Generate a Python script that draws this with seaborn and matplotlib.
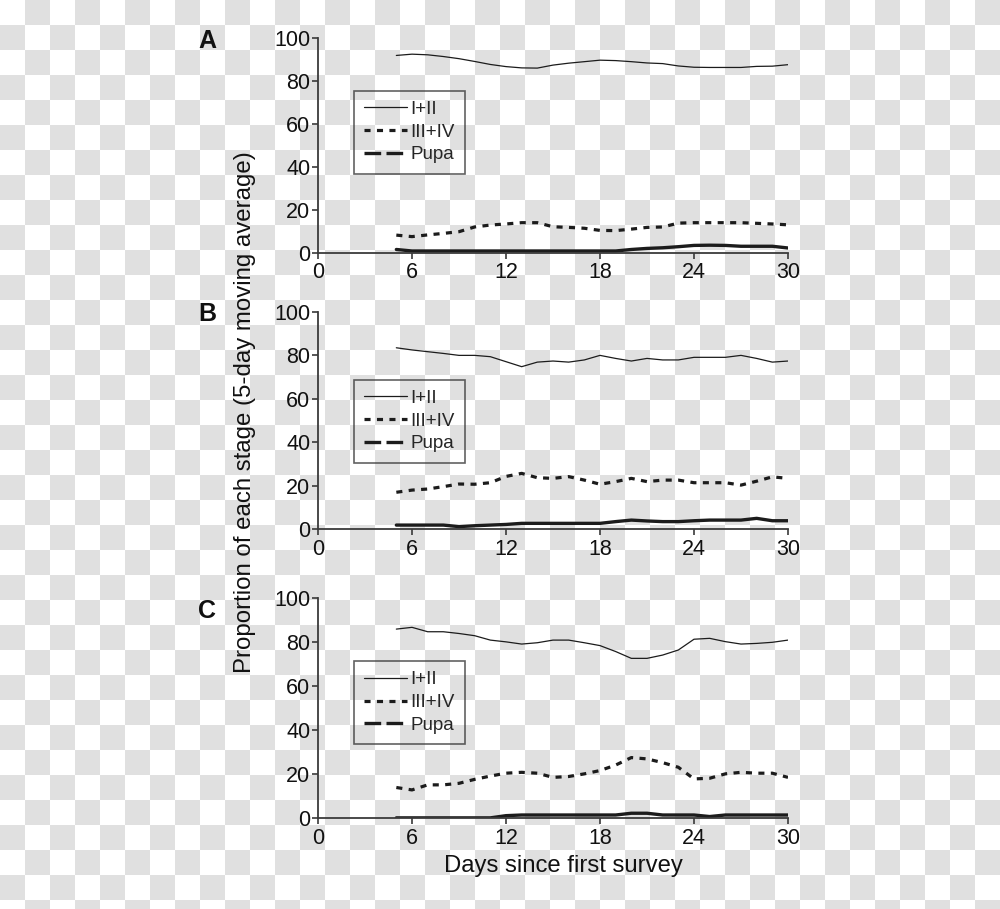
import numpy as np
import pandas as pd
import matplotlib
matplotlib.use("Agg")
import matplotlib.pyplot as plt
from matplotlib.lines import Line2D
import seaborn as sns

# days of the 5-day moving average (first value on day 5)
days = list(range(5, 31))

a_early = [92, 92.6, 92.3, 91.5, 90.5, 89.2, 87.8, 86.8, 86.2, 86.1, 87.5, 88.4, 89.1,
           89.8, 89.6, 89.1, 88.5, 88.2, 87.1, 86.5, 86.4, 86.4, 86.4, 86.9, 87.0, 87.7]
a_late = [8.2, 7.5, 8.3, 9.0, 9.8, 12.0, 12.9, 13.4, 14.0, 14.0, 12.1, 11.8, 11.4,
          10.4, 10.3, 11.0, 11.8, 12.0, 13.8, 14.0, 14.0, 14.0, 14.0, 13.7, 13.4, 13.0]
a_pupa = [1.5, 0.8, 0.8, 0.8, 0.8, 0.8, 0.8, 0.8, 0.8, 0.8, 0.8, 0.8, 0.8,
          0.8, 0.8, 1.5, 2.0, 2.3, 2.8, 3.4, 3.5, 3.4, 3.0, 3.0, 3.0, 2.2]

b_early = [83.4, 82.4, 81.6, 80.8, 79.9, 79.9, 79.3, 77.0, 74.7, 76.8, 77.3, 76.8, 77.8,
           79.9, 78.5, 77.3, 78.5, 77.8, 77.8, 79.0, 79.0, 79.0, 79.9, 78.5, 76.8, 77.3]
b_late = [16.9, 17.9, 18.4, 19.5, 20.7, 20.6, 21.3, 24.2, 25.6, 23.6, 23.3, 24.1, 22.5,
          20.6, 21.8, 23.3, 21.8, 22.5, 22.5, 21.3, 21.3, 21.3, 20.2, 22.0, 24.0, 23.3]
b_pupa = [1.8, 1.8, 1.8, 1.8, 1.1, 1.5, 1.8, 2.1, 2.6, 2.6, 2.6, 2.6, 2.6,
          2.6, 3.4, 4.1, 3.7, 3.4, 3.4, 3.8, 4.1, 4.1, 4.1, 4.9, 3.8, 3.8]

c_early = [86.0, 86.8, 84.8, 84.8, 84.0, 83.0, 81.0, 80.2, 79.2, 79.8, 81.0, 81.0, 79.8,
           78.5, 75.8, 72.7, 72.7, 74.2, 76.5, 81.4, 81.8, 80.3, 79.2, 79.5, 80.0, 81.0]
c_late = [14.0, 12.9, 15.2, 15.2, 15.9, 17.7, 19.2, 20.5, 20.9, 20.5, 18.6, 19.0, 20.2,
          21.7, 24.2, 27.6, 27.0, 25.3, 23.2, 17.9, 18.2, 20.2, 20.9, 20.5, 20.5, 18.6]
c_pupa = [0.2, 0.2, 0.2, 0.2, 0.2, 0.2, 0.2, 1.2, 1.5, 1.5, 1.5, 1.5, 1.5,
          1.5, 1.5, 2.3, 2.3, 1.5, 1.5, 1.5, 0.8, 1.5, 1.5, 1.5, 1.5, 1.5]

stage_names = ["I+II", "III+IV", "Pupa"]
panel_letters = ["A", "B", "C"]
x_ticks = [0, 6, 12, 18, 24, 30]
y_ticks = [0, 20, 40, 60, 80, 100]

panels = [(a_early, a_late, a_pupa), (b_early, b_late, b_pupa), (c_early, c_late, c_pupa)]

sns.set_style("ticks")
plt.rcParams["font.family"] = ["Liberation Sans", "DejaVu Sans"]

INK = "#1c1c1c"
AXC = "#3a3a3a"

fig = plt.figure(figsize=(10, 9.09), dpi=100, facecolor="white")

# checkered "transparent" backdrop of the reference
H, W = 909, 1000
yy, xx = np.mgrid[0:H, 0:W]
cell = ((xx // 25) + (yy // 25)) % 2
bg = np.where(cell[..., None] == 1, 224, 255).astype(np.uint8).repeat(3, axis=2)
fig.figimage(bg, 0, 0, zorder=-10)

# axes boxes in pixels: (y of value 100, y of value 0)
boxes = [(38.3, 252.7), (311.7, 529.0), (598.3, 818.3)]
legend_tops = [90.5, 379.5, 661.0]
letter_y = [40.5, 314.0, 611.5]

x0_px, x1_px = 318, 788

for k, (early, late, pupa) in enumerate(panels):
    ytop, ybot = boxes[k]
    ax = fig.add_axes([x0_px / W, 1 - ybot / H, (x1_px - x0_px) / W, (ybot - ytop) / H])
    ax.set_facecolor("none")
    ax.set_zorder(1)

    df = pd.DataFrame({"day": days, "early": early, "late": late, "pupa": pupa})
    sns.lineplot(data=df, x="day", y="early", ax=ax, color=INK, lw=0.9)
    sns.lineplot(data=df, x="day", y="late", ax=ax, color=INK, lw=2.3,
                 linestyle=(0, (1.9, 2.0)))
    sns.lineplot(data=df, x="day", y="pupa", ax=ax, color=INK, lw=2.4)

    ax.set_xlim(0, 30)
    ax.set_ylim(0, 100)
    ax.set_xticks(x_ticks)
    ax.set_yticks(y_ticks)
    ax.set_xlabel("")
    ax.set_ylabel("")
    sns.despine(ax=ax)
    for s in ("left", "bottom"):
        ax.spines[s].set_color(AXC)
        ax.spines[s].set_linewidth(1.3)
    ax.tick_params(direction="out", length=4, width=1.2, color=AXC,
                   labelsize=15.5, labelcolor="#111111", pad=1.5)
    ax.tick_params(axis="x", pad=3)

    handles = [
        Line2D([], [], color=INK, lw=0.9),
        Line2D([], [], color=INK, lw=2.3, linestyle=(0, (1.9, 2.0))),
        Line2D([], [], color=INK, lw=2.4, linestyle=(0, (5.0, 1.6))),
    ]
    leg_y = (ybot - legend_tops[k]) / (ybot - ytop)
    leg = ax.legend(handles, stage_names, loc="upper left",
                    bbox_to_anchor=((354 - x0_px) / (x1_px - x0_px), leg_y),
                    borderaxespad=0, fontsize=13.5, frameon=True, fancybox=False,
                    handlelength=2.3, handletextpad=0.15, labelspacing=0.3,
                    borderpad=0.55)
    fr = leg.get_frame()
    fr.set_facecolor("none")
    fr.set_edgecolor(AXC)
    fr.set_linewidth(1.2)

    fig.text(207 / W, 1 - letter_y[k] / H, panel_letters[k], fontsize=18,
             fontweight="bold", ha="center", va="center", color="#111111")

fig.text(245 / W, 1 - 412 / H, "Proportion of each stage (5-day moving average)",
         rotation=90, fontsize=17.3, ha="center", va="center", color="#111111")
fig.text(563 / W, 1 - 866 / H, "Days since first survey", fontsize=17.2,
         ha="center", va="center", color="#111111")

fig.savefig("out.png", dpi=100)
